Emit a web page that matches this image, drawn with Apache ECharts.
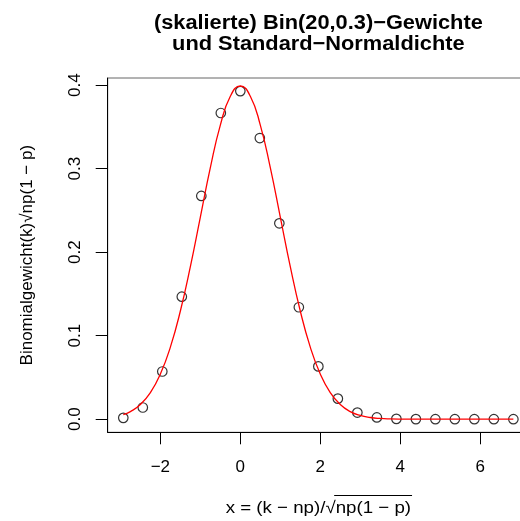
<!DOCTYPE html>
<html>
<head>
<meta charset="utf-8">
<script src="https://cdn.jsdelivr.net/npm/echarts@6/dist/echarts.min.js"></script>
<style>
  html, body { margin: 0; padding: 0; background: #fff; overflow: hidden; }
  /* the plot region runs a little past the right edge of the window */
  #chart { width: 529px; height: 521px; }
</style>
</head>
<body>
<div id="chart"></div>
<script>
// Bin(20, 0.3): standardized positions x = (k - np)/sqrt(np(1-p))
const kValues = [0, 1, 2, 3, 4, 5, 6, 7, 8, 9, 10, 11, 12, 13, 14, 15, 16, 17, 18, 19, 20];
const xScaled = [-2.928, -2.440, -1.952, -1.464, -0.976, -0.488, 0, 0.488, 0.976, 1.464,
                 1.952, 2.440, 2.928, 3.416, 3.904, 4.392, 4.880, 5.367, 5.855, 6.343, 6.831];
// binomial weight times sqrt(np(1-p))
const weights = [0.0016, 0.0140, 0.0571, 0.1467, 0.2673, 0.3666, 0.3928, 0.3366, 0.2345, 0.1340,
                 0.0632, 0.0246, 0.0079, 0.0021, 0.0004, 0.0001, 0, 0, 0, 0, 0];

// standard normal density, sampled along the plotted range
const curveX = [-2.928, -2.75, -2.5, -2.25, -2.0, -1.75, -1.5, -1.25, -1.0, -0.75, -0.5, -0.25, 0,
                0.25, 0.5, 0.75, 1.0, 1.25, 1.5, 1.75, 2.0, 2.25, 2.5, 2.75, 3.0, 3.25, 3.5, 3.75,
                4.0, 4.5, 5.0, 5.5, 6.0, 6.5, 6.831];
const curveY = [0.00549, 0.00909, 0.01753, 0.03174, 0.05399, 0.08628, 0.12952, 0.18265, 0.24197,
                0.30114, 0.35207, 0.38667, 0.39894, 0.38667, 0.35207, 0.30114, 0.24197, 0.18265,
                0.12952, 0.08628, 0.05399, 0.03174, 0.01753, 0.00909, 0.00443, 0.00203, 0.00087,
                0.00035, 0.00013, 0.00002, 0, 0, 0, 0, 0];

const xTicks = [-2, 0, 2, 4, 6];
const yTicks = [0, 0.1, 0.2, 0.3, 0.4];
const xRange = [-3.318, 7.222];
const yRange = [-0.0157, 0.4085];

const titleText = '(skalierte) Bin(20,0.3)\u2212Gewichte\nund Standard\u2212Normaldichte';
const yTitle = 'Binomialgewicht(k)\u221Anp(1 \u2212 p)';
const xTitle = 'x = (k \u2212 np)/\u221Anp(1 \u2212 p)';
const xTitleRadicand = 'np(1 \u2212 p)';

const FONT = '"Liberation Sans", Arial, Helvetica, sans-serif';
const minus = v => (v < 0 ? '\u2212' : '') + Math.abs(v);

const chartW = 529;
const gridLeft = 107.7, gridTop = 78, gridRight = 0, gridBottom = 88.7;
const plotCenterX = (gridLeft + chartW - gridRight) / 2;

// measure text to place the radical's overline
const xTitleScale = 1.1;
const ctx = document.createElement('canvas').getContext('2d');
ctx.font = '17px ' + FONT;
const xTitleW = ctx.measureText(xTitle).width * xTitleScale;
const radW = ctx.measureText(xTitleRadicand).width * xTitleScale;
const xTitleY = 508;
const olEnd = plotCenterX + xTitleW / 2;
const olStart = olEnd - radW - 1.5;

const chart = echarts.init(document.getElementById('chart'), null, { renderer: 'canvas' });
chart.setOption({
  animation: false,
  backgroundColor: '#fff',
  grid: {
    left: gridLeft, top: gridTop, right: gridRight, bottom: gridBottom,
    show: true, borderColor: '#666', borderWidth: 1, backgroundColor: 'transparent'
  },
  xAxis: {
    type: 'value', min: xRange[0], max: xRange[1],
    axisLine: { show: true, onZero: false, lineStyle: { color: '#000', width: 1 } },
    axisTick: { show: true, customValues: xTicks, length: 12, inside: false, lineStyle: { color: '#000' } },
    axisLabel: {
      customValues: xTicks, formatter: minus, margin: 27,
      fontFamily: FONT, fontSize: 17, color: '#000'
    },
    splitLine: { show: false }
  },
  yAxis: {
    type: 'value', min: yRange[0], max: yRange[1],
    axisLine: { show: true, onZero: false, lineStyle: { color: '#000', width: 1 } },
    axisTick: { show: true, customValues: yTicks, length: 12, inside: false, lineStyle: { color: '#000' } },
    axisLabel: {
      customValues: yTicks, formatter: v => v.toFixed(1), rotate: 90, margin: 24,
      align: 'center', verticalAlign: 'bottom',
      fontFamily: FONT, fontSize: 17, color: '#000'
    },
    splitLine: { show: false }
  },
  graphic: [
    {
      type: 'text', x: plotCenterX, y: 34, scaleX: 1.09,
      style: {
        text: titleText, font: 'bold 20px ' + FONT, lineHeight: 21.6, fill: '#000',
        align: 'center', verticalAlign: 'middle'
      }
    },
    {
      type: 'text', x: 27, y: (gridTop + 521 - gridBottom) / 2, rotation: Math.PI / 2,
      style: { text: yTitle, font: '17px ' + FONT, fill: '#000', align: 'center', verticalAlign: 'middle' }
    },
    {
      type: 'text', x: plotCenterX, y: xTitleY, scaleX: xTitleScale,
      style: { text: xTitle, font: '17px ' + FONT, fill: '#000', align: 'center', verticalAlign: 'middle' }
    },
    {
      type: 'line', shape: { x1: olStart, y1: xTitleY - 12.5, x2: olEnd + 1, y2: xTitleY - 12.5 },
      style: { stroke: '#000', lineWidth: 1 }
    }
  ],
  series: [
    {
      type: 'scatter',
      data: kValues.map((k, i) => [xScaled[i], weights[i]]),
      symbol: 'circle', symbolSize: 9.5,
      itemStyle: { color: 'transparent', borderColor: '#000', borderWidth: 1.2 },
      z: 2
    },
    {
      type: 'line',
      data: curveX.map((x, i) => [x, curveY[i]]),
      showSymbol: false, smooth: 0.5,
      lineStyle: { color: '#ff0000', width: 1.3 },
      z: 3
    }
  ]
});
</script>
</body>
</html>
